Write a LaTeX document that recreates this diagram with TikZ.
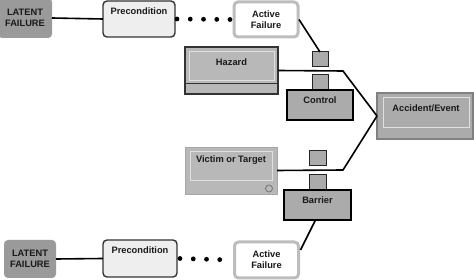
\documentclass[tikz,border=0pt]{standalone}
\usepackage{fontspec}
\setmainfont{Liberation Sans}
\definecolor{lfgray}{HTML}{9A9A9A}
\definecolor{pregray}{HTML}{EEEEEE}
\definecolor{afgray}{HTML}{BDBDBD}
\definecolor{boxgray}{HTML}{ABABAB}
\definecolor{vicgray}{HTML}{B8B8B8}
\definecolor{accedge}{HTML}{808080}
\tikzset{
  base/.style={inner sep=0pt, outer sep=0pt, rectangle},
  latent/.style={base, fill=lfgray, rounded corners=4pt},
  precond/.style={base, fill=pregray, draw=black!80, line width=1.4pt, rounded corners=4pt},
  active/.style={base, fill=white, draw=afgray, line width=3pt, rounded corners=4pt},
  sqbox/.style={base, fill=boxgray, draw=black!85, line width=1pt},
  ctlbox/.style={base, fill=boxgray, draw=black, line width=1.8pt},
  hazbox/.style={base, fill=vicgray, draw=black!80, line width=1.1pt},
  innerbox/.style={base, draw=white!88!black, line width=1pt},
  accbox/.style={base, fill=boxgray, draw=accedge, line width=1.2pt},
  vicbox/.style={base, fill=vicgray, draw=vicgray!90!black, line width=0.6pt},
  txt/.style={inner sep=0pt, font=\fontsize{9.3}{11}\selectfont\bfseries, align=center, text=black!90},
  conn/.style={line width=1.6pt, black},
  dots/.style={line width=4.8pt, line cap=round, dash pattern=on 0pt off 13.25pt, black},
}
\begin{document}
\begin{tikzpicture}[x=1pt,y=-1pt]
\useasboundingbox (0,0) rectangle (474,280);
% top chain
\node[latent, minimum width=54pt, minimum height=40pt] (lf1) at (25,18) {};
\node[txt] (lf1t) at (lf1.center) {LATENT\\FAILURE};
\node[precond, minimum width=72pt, minimum height=36pt] (pre1) at (139,19) {};
\node[txt] (pre1t) at (139,11) {Precondition};
\node[active, minimum width=64pt, minimum height=35pt] (af1) at (266,19.5) {};
\node[txt] (af1t) at (af1.center) {Active\\Failure};
% bottom chain
\node[latent, minimum width=52pt, minimum height=38pt] (lf2) at (30,259) {};
\node[txt] (lf2t) at (lf2.center) {LATENT\\FAILURE};
\node[precond, minimum width=74pt, minimum height=37pt] (pre2) at (140,258.5) {};
\node[txt] (pre2t) at (140,250) {Precondition};
\node[active, minimum width=64pt, minimum height=36pt] (af2) at (266.5,260) {};
\node[txt] (af2t) at (af2.center) {Active\\Failure};
% hazard
\node[hazbox, minimum width=93pt, minimum height=47pt] (haz) at (231.5,70.5) {};
\node[innerbox, minimum width=85pt, minimum height=29pt] (hazin) at (231.5,66.5) {};
\draw[black!80, line width=0.9pt] (haz.west |- 0,83) -- (haz.east |- 0,83);
\node[txt] (hazt) at (231.5,62.5) {Hazard};
% victim
\node[vicbox, minimum width=92pt, minimum height=47pt] (vic) at (231,170.5) {};
\node[innerbox, minimum width=82pt, minimum height=29pt] (vicin) at (231,166.5) {};
\node[draw=black!55, line width=0.8pt, circle, minimum size=7pt, inner sep=0pt] (vicc) at (269,188.5) {};
\node[txt] (vict) at (231,160) {Victim or Target};
% control / barrier
\node[sqbox, minimum width=16pt, minimum height=15pt] (sq1) at (320,59.5) {};
\node[sqbox, minimum width=16pt, minimum height=15pt] (sq2) at (320,82.5) {};
\node[ctlbox, minimum width=66pt, minimum height=30pt] (ctl) at (320,105) {};
\node[txt] (ctlt) at (320,100) {Control};
\node[sqbox, minimum width=17pt, minimum height=15pt] (sq3) at (317.5,158.5) {};
\node[sqbox, minimum width=17pt, minimum height=15pt] (sq4) at (317.5,182.5) {};
\node[ctlbox, minimum width=67pt, minimum height=30pt] (bar) at (317.5,205) {};
\node[txt] (bart) at (317.5,200) {Barrier};
% accident
\node[accbox, minimum width=96pt, minimum height=46pt] (acc) at (425,116) {};
\node[innerbox, minimum width=86pt, minimum height=30pt] (accin) at (426,113) {};
\node[txt] (acct) at (426,108) {Accident/Event};
% connectors
\coordinate (hb) at (343,71);
\coordinate (vb) at (343,170);
\draw[conn] (lf1.east) -- (pre1.west);
\draw[conn] (lf2.east) -- (pre2.west);
\draw[dots] ([xshift=2pt]pre1.east) -- ([xshift=-3pt]af1.west);
\draw[dots] ([xshift=3pt]pre2.east) -- ([xshift=-2pt]af2.west);
\draw[conn] ([xshift=1pt]af1.east) -- (sq1.north);
\draw[conn] (haz.east) -- (hb) -- (acc.west);
\draw[conn] (vic.east) -- (vb) -- (acc.west);
\draw[conn] ([xshift=-2pt]bar.south) -- ([xshift=2pt,yshift=10pt]af2.east);
\end{tikzpicture}
\end{document}
